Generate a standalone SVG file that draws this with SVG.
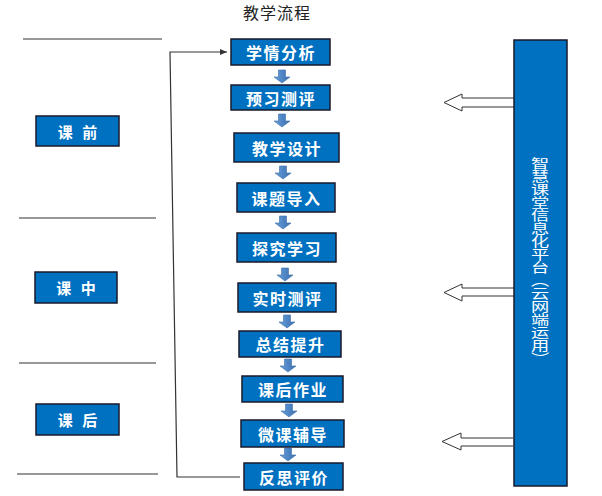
<svg xmlns="http://www.w3.org/2000/svg" xmlns:xlink="http://www.w3.org/1999/xlink" width="602" height="496" viewBox="0 0 602 496">
<defs>
<style>
.box{fill:#0070C0;stroke:#1a1a2a;stroke-width:1.5}
.t{fill:#fff;font-family:"Noto Sans CJK SC","Liberation Sans",sans-serif;font-weight:bold;font-size:16px;letter-spacing:1.5px;text-anchor:middle;dominant-baseline:central}
.s{fill:#fff;font-family:"Noto Sans CJK SC","Liberation Sans",sans-serif;font-weight:bold;font-size:15px;letter-spacing:3px;white-space:pre;text-anchor:middle;dominant-baseline:central}
.sep{stroke:#333;stroke-width:1.2;fill:none}
.hollow{fill:#fff;stroke:#333;stroke-width:1}
.conn{stroke:#333;stroke-width:1.2;fill:none}
.da{fill:url(#dg);stroke:#3d6fa8;stroke-width:0.6}
</style>
<linearGradient id="dg" x1="0" y1="0" x2="1" y2="0">
<stop offset="0" stop-color="#6a9fd8"/>
<stop offset="0.5" stop-color="#4f86c6"/>
<stop offset="1" stop-color="#3f72b0"/>
</linearGradient>
<path id="down" d="M-3.5,0 H3.5 V7 H8 L0,13 L-8,7 H-3.5 Z"/>
<marker id="ah" markerWidth="8" markerHeight="8" refX="7" refY="4" orient="auto" markerUnits="userSpaceOnUse">
<path d="M0,1 L7,4 L0,7 Z" fill="#333"/>
</marker>
</defs>
<rect width="602" height="496" fill="#fff"/>
<text x="277" y="11.5" font-family="Noto Sans CJK SC,Liberation Sans,sans-serif" font-size="16" letter-spacing="1" text-anchor="middle" dominant-baseline="central" fill="#222">教学流程</text>

<g id="separators">
<line class="sep" x1="23" y1="39" x2="162" y2="39"/>
<line class="sep" x1="19" y1="218" x2="156" y2="218"/>
<line class="sep" x1="19" y1="363" x2="156" y2="363"/>
<line class="sep" x1="17" y1="474" x2="158" y2="474"/>
</g>

<g id="stage-pre"><rect class="box" x="36" y="116" width="83" height="30"/><text class="s" x="79" y="131">课 前</text></g>
<g id="stage-in"><rect class="box" x="35" y="272" width="82" height="31"/><text class="s" x="77.5" y="287.5">课 中</text></g>
<g id="stage-post"><rect class="box" x="36" y="404" width="83" height="31"/><text class="s" x="79" y="419.5">课 后</text></g>

<g id="connectors">
<polyline class="conn" points="240,477 177,477 170,52 227,52" marker-end="url(#ah)"/>
<use href="#down" class="da" x="282" y="70"/>
<use href="#down" class="da" x="282" y="114"/>
<use href="#down" class="da" x="283" y="166"/>
<use href="#down" class="da" x="283" y="216"/>
<use href="#down" class="da" x="285" y="268"/>
<use href="#down" class="da" x="287" y="315"/>
<use href="#down" class="da" x="288" y="359"/>
<use href="#down" class="da" x="289" y="404"/>
<use href="#down" class="da" x="288" y="448"/>
<path class="hollow" d="M514,98 H462 V94 L444,102.5 L462,111 V107 H514"/>
<path class="hollow" d="M514,288 H462 V284 L444,292.5 L462,301 V296 H514"/>
<path class="hollow" d="M513,438 H461 V433 L442,441.5 L461,450 V446 H513"/>
</g>

<g id="n1"><rect class="box" x="231" y="39" width="99" height="26"/><text class="t" x="281" y="52">学情分析</text></g>
<g id="n2"><rect class="box" x="231" y="85" width="99" height="25"/><text class="t" x="281" y="97.5">预习测评</text></g>
<g id="n3"><rect class="box" x="234" y="133" width="105" height="29"/><text class="t" x="287" y="147.5">教学设计</text></g>
<g id="n4"><rect class="box" x="237" y="183" width="98" height="29"/><text class="t" x="286.5" y="197.5">课题导入</text></g>
<g id="n5"><rect class="box" x="237" y="233" width="99" height="29"/><text class="t" x="287" y="247.5">探究学习</text></g>
<g id="n6"><rect class="box" x="238" y="283" width="98" height="29"/><text class="t" x="287.5" y="297.5">实时测评</text></g>
<g id="n7"><rect class="box" x="239" y="331" width="102" height="26"/><text class="t" x="290.5" y="344">总结提升</text></g>
<g id="n8"><rect class="box" x="242" y="376" width="101" height="26"/><text class="t" x="293" y="389">课后作业</text></g>
<g id="n9"><rect class="box" x="241" y="420" width="103" height="27"/><text class="t" x="293" y="433.5">微课辅导</text></g>
<g id="n10"><rect class="box" x="244" y="463" width="99" height="27"/><text class="t" x="294" y="476.5">反思评价</text></g>

<g id="platform">
<rect class="box" x="514" y="40" width="53" height="446"/>
<text transform="translate(540,157) scale(1.4,1)" x="0" y="0" fill="#fff" font-family="Noto Sans CJK SC,Liberation Sans,sans-serif" font-size="13" writing-mode="vertical-rl" dominant-baseline="central">智慧课堂信息化平台（云网端运用）</text>
</g>
</svg>
